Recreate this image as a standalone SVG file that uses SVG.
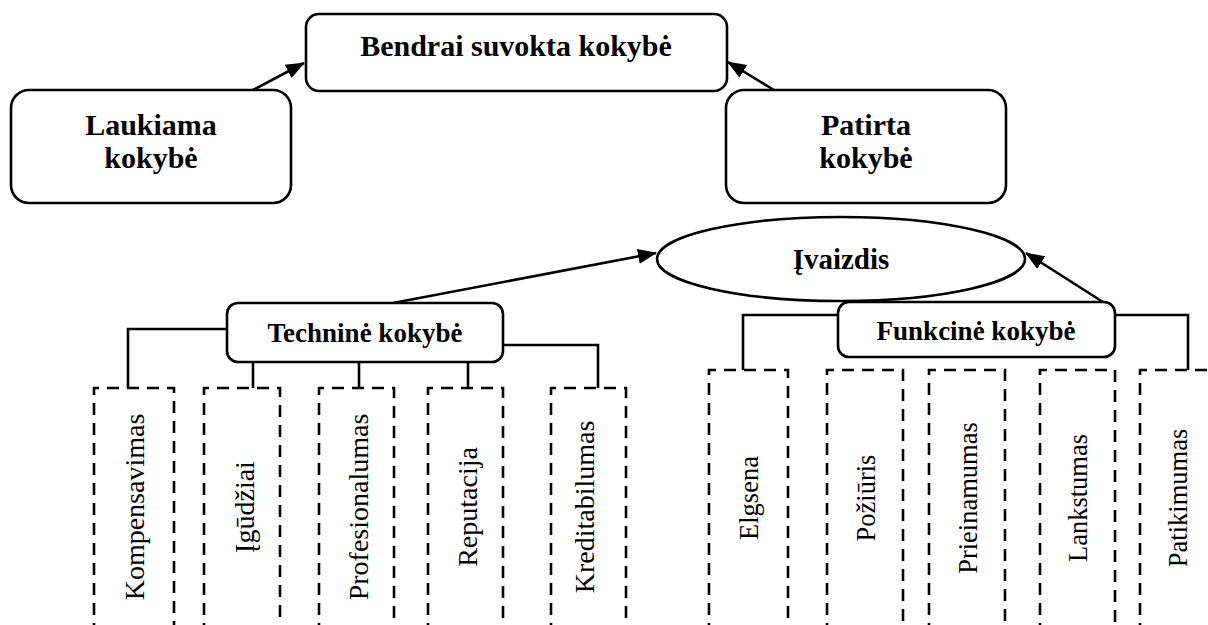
<svg xmlns="http://www.w3.org/2000/svg" width="1208" height="625" viewBox="0 0 1208 625">
  <style>
    .box { fill: #ffffff; stroke: #000000; stroke-width: 2.6; }
    .conn { fill: none; stroke: #000000; stroke-width: 2.6; }
    .dash { fill: none; stroke: #000000; stroke-width: 2.6; stroke-dasharray: 12 8; }
    .head { font-family: "Liberation Serif", "Times New Roman", serif; font-weight: bold; fill: #000000; text-anchor: middle; }
    .lbl { font-family: "Liberation Serif", "Times New Roman", serif; fill: #000000; text-anchor: middle; }
  </style>
  <defs>
    <marker id="arrow" viewBox="0 0 19 15" refX="18" refY="7.5" markerWidth="19" markerHeight="15" markerUnits="userSpaceOnUse" orient="auto">
      <path d="M0,0 L19,7.5 L0,15 z" fill="#000000"/>
    </marker>
  </defs>

  <rect width="1208" height="625" fill="#ffffff"/>

  <!-- connectors -->
  <g id="connectors">
    <line class="conn" x1="253" y1="90" x2="304" y2="63" marker-end="url(#arrow)"/>
    <line class="conn" x1="774" y1="90" x2="728" y2="62" marker-end="url(#arrow)"/>
    <line class="conn" x1="393" y1="303" x2="656" y2="253" marker-end="url(#arrow)"/>
    <line class="conn" x1="1103" y1="302" x2="1026" y2="253" marker-end="url(#arrow)"/>

    <!-- technical quality branches -->
    <polyline class="conn" points="227,329 128,329 128,388"/>
    <polyline class="conn" points="503,345 598,345 598,388"/>
    <line class="conn" x1="253" y1="362" x2="253" y2="388"/>
    <line class="conn" x1="359" y1="362" x2="359" y2="388"/>
    <line class="conn" x1="468" y1="362" x2="468" y2="388"/>

    <!-- functional quality branches -->
    <polyline class="conn" points="838,315 743,315 743,370"/>
    <polyline class="conn" points="1115,315 1188,315 1188,370"/>
  </g>

  <!-- top level -->
  <g id="node-bendrai">
    <rect class="box" x="306" y="14" width="421" height="77" rx="13"/>
    <text class="head" x="516" y="56" font-size="30">Bendrai suvokta kokybė</text>
  </g>
  <g id="node-laukiama">
    <rect class="box" x="11" y="90" width="280" height="113" rx="18"/>
    <text class="head" x="151" y="135" font-size="30">Laukiama</text>
    <text class="head" x="151" y="168" font-size="30">kokybė</text>
  </g>
  <g id="node-patirta">
    <rect class="box" x="726" y="90" width="280" height="113" rx="18"/>
    <text class="head" x="866" y="135" font-size="30">Patirta</text>
    <text class="head" x="866" y="168" font-size="30">kokybė</text>
  </g>

  <g id="node-ivaizdis">
    <ellipse class="box" cx="841" cy="259" rx="184" ry="42"/>
    <text class="head" x="841" y="269" font-size="29">Įvaizdis</text>
  </g>

  <g id="node-technine">
    <rect class="box" x="227" y="303" width="276" height="59" rx="11"/>
    <text class="head" x="365" y="342" font-size="27">Techninė kokybė</text>
  </g>
  <g id="node-funkcine">
    <rect class="box" x="838" y="302" width="277" height="55" rx="11"/>
    <text class="head" x="976" y="340" font-size="27">Funkcinė kokybė</text>
  </g>

  <!-- technical quality dimensions -->
  <g id="node-kompensavimas">
    <path class="dash" d="M94,635 V388 H174 V635"/>
    <text class="lbl" font-size="28" transform="translate(144,507) rotate(-90)">Kompensavimas</text>
  </g>
  <g id="node-igudziai">
    <path class="dash" d="M204,635 V388 H280 V635"/>
    <text class="lbl" font-size="28" transform="translate(254,507) rotate(-90)">Įgūdžiai</text>
  </g>
  <g id="node-profesionalumas">
    <path class="dash" d="M319,635 V388 H394 V635"/>
    <text class="lbl" font-size="28" transform="translate(368,507) rotate(-90)">Profesionalumas</text>
  </g>
  <g id="node-reputacija">
    <path class="dash" d="M428,635 V388 H503 V635"/>
    <text class="lbl" font-size="28" transform="translate(477,507) rotate(-90)">Reputacija</text>
  </g>
  <g id="node-kreditabilumas">
    <path class="dash" d="M551,635 V388 H626 V635"/>
    <text class="lbl" font-size="28" transform="translate(594,507) rotate(-90)">Kreditabilumas</text>
  </g>

  <!-- functional quality dimensions -->
  <g id="node-elgsena">
    <path class="dash" d="M709,635 V370 H788 V635"/>
    <text class="lbl" font-size="26.5" transform="translate(758,498) rotate(-90)">Elgsena</text>
  </g>
  <g id="node-poziuris">
    <path class="dash" d="M827,635 V370 H903 V635"/>
    <text class="lbl" font-size="26.5" transform="translate(875,498) rotate(-90)">Požiūris</text>
  </g>
  <g id="node-prieinamumas">
    <path class="dash" d="M929,635 V370 H1005 V635"/>
    <text class="lbl" font-size="26.5" transform="translate(977,498) rotate(-90)">Prieinamumas</text>
  </g>
  <g id="node-lankstumas">
    <path class="dash" d="M1040,635 V370 H1115 V635"/>
    <text class="lbl" font-size="26.5" transform="translate(1087,498) rotate(-90)">Lankstumas</text>
  </g>
  <g id="node-patikimumas">
    <path class="dash" d="M1140,635 V370 H1216 V635"/>
    <text class="lbl" font-size="26.5" transform="translate(1187,498) rotate(-90)">Patikimumas</text>
  </g>
</svg>
